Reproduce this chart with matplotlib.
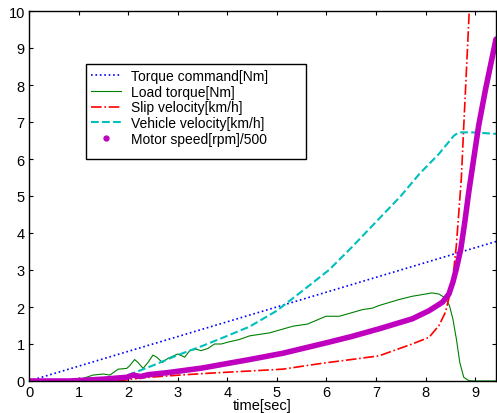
import numpy as np
import matplotlib
matplotlib.use("Agg")
import matplotlib.pyplot as plt
from matplotlib.lines import Line2D
from matplotlib.patches import Rectangle

plt.rcParams['font.family'] = ['Liberation Sans', 'DejaVu Sans']

# Torque command [Nm]
cmd_t = [0, 9.42]
cmd_y = [0, 3.77]

# Load torque [Nm]
load_t = [0, 0.9, 0.96, 1.09, 1.29, 1.5, 1.63, 1.8, 1.97, 2.03, 2.13, 2.2, 2.3, 2.4, 2.5, 2.58, 2.69,
          2.8, 3.0, 3.1, 3.14, 3.24, 3.37, 3.47, 3.61, 3.74, 3.88, 4.01, 4.24, 4.45, 4.85, 5.32, 5.62,
          5.99, 6.26, 6.73, 6.93, 7.06, 7.46, 7.73, 8.13, 8.27, 8.4, 8.48, 8.55, 8.62, 8.69, 8.77,
          8.87, 9.0, 9.42]
load_y = [0, 0, 0.04, 0.07, 0.16, 0.19, 0.16, 0.32, 0.34, 0.41, 0.58, 0.5, 0.34, 0.5, 0.7, 0.64, 0.5,
          0.61, 0.73, 0.67, 0.64, 0.82, 0.86, 0.82, 0.88, 1.0, 1.0, 1.05, 1.12, 1.22, 1.3, 1.48, 1.54,
          1.75, 1.75, 1.93, 1.97, 2.04, 2.2, 2.29, 2.38, 2.35, 2.24, 2.04, 1.68, 1.14, 0.5, 0.1,
          0.01, 0.0, 0.0]

# Slip velocity [km/h]
slip_t = [0, 1.8, 2.23, 2.82, 3.5, 4.03, 4.45, 5.12, 5.92, 6.5, 7.06, 7.73, 8.07, 8.27, 8.4, 8.5,
          8.57, 8.62, 8.67, 8.72, 8.77, 8.86, 8.89]
slip_y = [0, 0, 0.08, 0.14, 0.2, 0.24, 0.27, 0.32, 0.48, 0.58, 0.68, 1.0, 1.18, 1.5, 1.86, 2.4,
          3.03, 3.66, 4.56, 5.46, 6.9, 9.42, 10.3]

# Vehicle velocity [km/h]
veh_t = [0, 1.0, 1.5, 2.0, 2.5, 3.0, 3.5, 4.0, 4.45, 5.0, 5.5, 6.05, 6.5, 7.0, 7.5, 7.87, 8.27, 8.57,
         8.67, 8.94, 9.42]
veh_y = [0, 0, 0.03, 0.16, 0.42, 0.7, 0.95, 1.22, 1.47, 1.9, 2.42, 3.0, 3.6, 4.3, 5.0, 5.59, 6.14, 6.63,
         6.72, 6.72, 6.68]

# Motor speed [rpm]/500
mot_t = [0, 0.82, 1.5, 1.97, 2.1, 2.25, 2.4, 2.82, 3.49, 4.03, 4.45, 5.12, 5.99, 6.5, 7.06, 7.73,
         8.07, 8.34, 8.47, 8.55, 8.62, 8.71, 8.79, 8.87, 9.07, 9.21, 9.42]
mot_y = [0, 0, 0.05, 0.1, 0.16, 0.12, 0.17, 0.23, 0.35, 0.48, 0.58, 0.75, 1.03, 1.2, 1.41, 1.68,
         1.9, 2.13, 2.35, 2.67, 3.03, 3.57, 4.29, 5.1, 6.9, 7.89, 9.24]

fig = plt.figure(figsize=(4.97, 4.14), dpi=100)
ax = fig.add_axes([29 / 497, 32 / 414, 467 / 497, 370 / 414])

ax.plot(cmd_t, cmd_y, color='b', ls=':', lw=1.2, label='Torque command[Nm]')
ax.plot(load_t, load_y, color='g', ls='-', lw=0.8, label='Load torque[Nm]')
ax.plot(slip_t, slip_y, color='r', ls='-.', lw=1.2, label='Slip velocity[km/h]')
ax.plot(veh_t, veh_y, color='c', ls='--', lw=1.5, label='Vehicle velocity[km/h]')
ax.plot(mot_t, mot_y, color='m', ls='-', lw=4.0, solid_capstyle='round', solid_joinstyle='round')

# legend frame (wider than the text, as in the original)
ax.add_patch(Rectangle((0.122, 0.6), 0.471, 0.257, transform=ax.transAxes,
                       facecolor='white', edgecolor='black', lw=1.0, zorder=4))

handles, labels = ax.get_legend_handles_labels()
handles.append(Line2D([], [], color='m', marker='.', ls='none', markersize=7))
labels.append('Motor speed[rpm]/500')
leg = ax.legend(handles, labels, loc='upper left', bbox_to_anchor=(0.122, 0.857), borderaxespad=0,
                fontsize=10, handlelength=2.2, handletextpad=0.7, labelspacing=0.13,
                frameon=False, borderpad=0.35)
leg.set_zorder(5)

ax.set_xlim(0, 9.42)
ax.set_ylim(0, 10)
ax.set_xticks(range(0, 10))
ax.set_yticks(range(0, 11))
ax.tick_params(direction='in', top=True, right=True, length=3, labelsize=10.5, pad=3)
ax.set_xlabel('time[sec]', fontsize=10.5, labelpad=-1)
for s in ax.spines.values():
    s.set_linewidth(1.0)

fig.savefig('out.png', dpi=100)
